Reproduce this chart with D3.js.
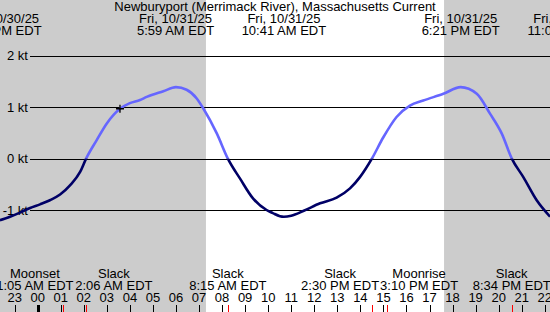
<!DOCTYPE html>
<html><head><meta charset="utf-8">
<script src="https://cdn.jsdelivr.net/npm/d3@7"></script>
<style>html,body{margin:0;padding:0;background:#fff;overflow:hidden}</style>
</head><body><svg id="c" width="550" height="312"></svg>
<script>
// ---- data ----
const title = "Newburyport (Merrimack River), Massachusetts Current";
// hours relative to midnight starting Fri 10/31/25
const hours = [-1.64, -1.20, -0.77, -0.33, 0.10, 0.53, 0.97, 1.40, 1.84, 2.10, 2.56, 2.99, 3.57, 4.00, 4.44, 4.73, 5.45, 6.00, 6.46, 6.90, 7.18, 7.77, 8.25, 8.78, 9.35, 9.93, 10.20, 10.51, 10.68, 11.00, 11.52, 12.25, 12.97, 13.55, 13.98, 14.50, 14.99, 15.57, 16.15, 16.73, 17.60, 18.35, 19.05, 19.63, 20.13, 20.57, 21.07, 21.65, 22.23];
const knots = [-1.20, -1.13, -1.05, -0.96, -0.89, -0.81, -0.70, -0.52, -0.26, 0.00, 0.36, 0.68, 0.97, 1.08, 1.14, 1.20, 1.31, 1.39, 1.34, 1.17, 0.98, 0.49, 0.00, -0.39, -0.78, -1.00, -1.06, -1.12, -1.13, -1.11, -1.02, -0.87, -0.76, -0.58, -0.36, 0.00, 0.41, 0.81, 1.03, 1.13, 1.26, 1.39, 1.26, 0.87, 0.49, 0.00, -0.36, -0.81, -1.13];
const yTicks = [2, 1, 0, -1];
const hourTicks = d3.range(-1, 23);
const nightSpans = [[-2, 7.30], [17.63, 23]];
const extremeHours = [-1.68, 5.983, 10.683, 18.35, 23.083];
const extremeDates = ["Thu, 10/30/25", "Fri, 10/31/25", "Fri, 10/31/25", "Fri, 10/31/25", "Fri, 10/31/25"];
const extremeTimes = ["10:19 PM EDT", "5:59 AM EDT", "10:41 AM EDT", "6:21 PM EDT", "11:05 PM EDT"];
const eventNames = ["Moonset", "Slack", "Slack", "Slack", "Moonrise", "Slack"];
const eventHours = [1.083, 2.10, 8.25, 14.50, 15.167, 20.567];
const eventTimes = ["1:05 AM EDT", "2:06 AM EDT", "8:15 AM EDT", "2:30 PM EDT", "3:10 PM EDT", "8:34 PM EDT"];
const nowHour = 3.57, nowKnots = 0.97;

// ---- layout ----
const W = 550, H = 312;
const FONT = "'Liberation Sans', Arial, sans-serif";
const x = d3.scaleLinear().domain([-1.6357, 22.227]).range([0, W]);
const y = d3.scaleLinear().domain([-1, 2]).range([210, 55.8]);
const svg = d3.select("#c").style("font-family", FONT).style("font-size", "13px");

svg.append("rect").attr("width", W).attr("height", H).attr("fill", "#fff");
svg.selectAll("rect.night").data(nightSpans).join("rect").attr("class", "night")
  .attr("x", d => Math.max(0, x(d[0]))).attr("y", 0)
  .attr("width", d => Math.min(W, x(d[1])) - Math.max(0, x(d[0]))).attr("height", H)
  .attr("fill", "#cccccc");

// grid lines + y labels
svg.selectAll("line.grid").data(yTicks).join("line").attr("class", "grid")
  .attr("x1", 30).attr("x2", W).attr("y1", d => Math.round(y(d)) + 0.5).attr("y2", d => Math.round(y(d)) + 0.5)
  .attr("stroke", "#000").attr("stroke-width", 1);
svg.selectAll("text.ylab").data(yTicks).join("text").attr("class", "ylab")
  .attr("x", 28).attr("y", d => y(d) + 4.6).attr("text-anchor", "end").attr("fill", "#000")
  .text(d => d + " kt");

// curve, colored by sign via clipping
const defs = svg.append("defs");
defs.append("clipPath").attr("id", "pos").append("rect").attr("x", 0).attr("y", 0).attr("width", W).attr("height", y(0));
defs.append("clipPath").attr("id", "neg").append("rect").attr("x", 0).attr("y", y(0)).attr("width", W).attr("height", H - y(0));
const pts = hours.map((h, i) => [h, knots[i]]);
const line = d3.line().x(d => x(d[0])).y(d => y(d[1])).curve(d3.curveMonotoneX);
svg.append("path").datum(pts).attr("d", line).attr("fill", "none").attr("stroke", "#6666ff")
  .attr("stroke-width", 2.6).attr("clip-path", "url(#pos)");
svg.append("path").datum(pts).attr("d", line).attr("fill", "none").attr("stroke", "#000066")
  .attr("stroke-width", 2.6).attr("clip-path", "url(#neg)");

// current time marker
const mx = x(nowHour), my = y(nowKnots);
svg.append("path").attr("d", `M${mx - 4},${my}H${mx + 4}M${mx},${my - 4}V${my + 4}`)
  .attr("stroke", "#000").attr("stroke-width", 1.3).attr("fill", "none");

// title and extreme labels
svg.append("text").attr("x", W / 2).attr("y", 10.5).attr("text-anchor", "middle").text(title);
const ext = svg.selectAll("g.ext").data(extremeHours).join("g").attr("class", "ext");
ext.append("text").attr("x", d => x(d)).attr("y", 22.5).attr("text-anchor", "middle").text((d, i) => extremeDates[i]);
ext.append("text").attr("x", d => x(d)).attr("y", 34.8).attr("text-anchor", "middle").text((d, i) => extremeTimes[i]);

// event labels with simple de-overlap
const MINSEP = 79;
const pos = eventHours.map(h => x(h));
for (let i = 0; i < pos.length - 1; i++) {
  if (pos[i + 1] - pos[i] < MINSEP) {
    const m = (pos[i] + pos[i + 1]) / 2;
    pos[i] = m - MINSEP / 2; pos[i + 1] = m + MINSEP / 2;
  }
}
svg.selectAll("text.ename").data(eventNames).join("text").attr("class", "ename")
  .attr("x", (d, i) => pos[i]).attr("y", 278.3).attr("text-anchor", "middle").text(d => d);
svg.selectAll("text.etime").data(eventTimes).join("text").attr("class", "etime")
  .attr("x", (d, i) => pos[i]).attr("y", 290.2).attr("text-anchor", "middle").text(d => d);

// hour labels & ticks
svg.selectAll("text.hr").data(hourTicks).join("text").attr("class", "hr")
  .attr("x", d => x(d)).attr("y", 301.8).attr("text-anchor", "middle")
  .text(d => d3.format("02")((d + 24) % 24));
svg.selectAll("line.htick").data(hourTicks).join("line").attr("class", "htick")
  .attr("x1", d => Math.round(x(d)) + 0.5).attr("x2", d => Math.round(x(d)) + 0.5)
  .attr("y1", 305).attr("y2", H).attr("stroke", "#000")
  .attr("stroke-width", d => d === 0 ? 3 : 1);
svg.selectAll("line.etick").data(eventHours).join("line").attr("class", "etick")
  .attr("x1", d => Math.round(x(d)) + 0.5).attr("x2", d => Math.round(x(d)) + 0.5)
  .attr("y1", 305).attr("y2", H).attr("stroke", "#ff0000").attr("stroke-width", 1);
</script>
</body></html>
